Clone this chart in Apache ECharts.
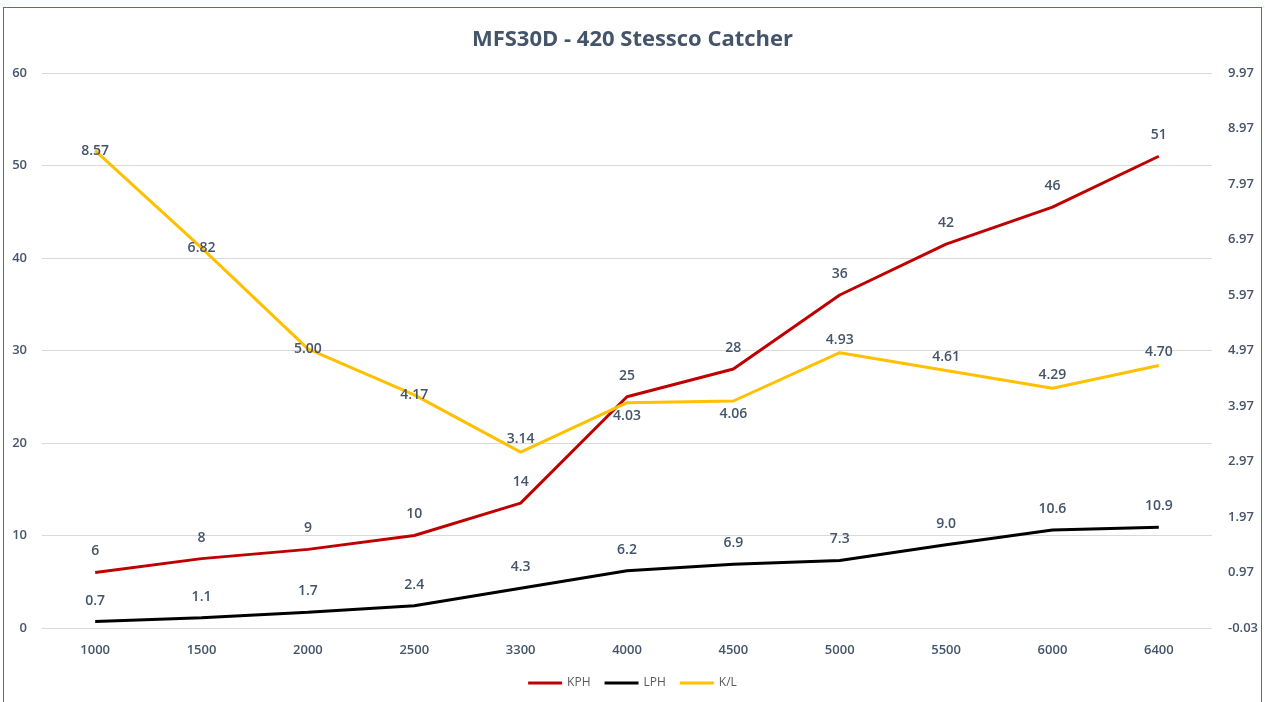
<!DOCTYPE html>
<html>
<head>
<meta charset="utf-8">
<script src="https://cdn.jsdelivr.net/npm/echarts@6/dist/echarts.min.js"></script>
<style>
html,body{margin:0;padding:0;background:#fff;}
#wrap{position:relative;width:1265px;height:702px;overflow:hidden;}
#chart{width:1265px;height:702px;}
#frame{position:absolute;left:3px;top:7px;width:1259px;height:720px;border:1px solid #FF2A2A;box-sizing:border-box;pointer-events:none;}
</style>
</head>
<body>
<div id="wrap"><div id="chart"></div><div id="frame"></div></div>
<script>
const categories = ['1000','1500','2000','2500','3300','4000','4500','5000','5500','6000','6400'];
const kph = [6, 7.5, 8.5, 10, 13.5, 25, 28, 36, 41.5, 45.5, 51];
const lph = [0.7, 1.1, 1.7, 2.4, 4.3, 6.2, 6.9, 7.3, 9.0, 10.6, 10.9];
const kl = [8.57, 6.82, 5.00, 4.17, 3.14, 4.03, 4.06, 4.93, 4.61, 4.29, 4.70];
const klLabelPos = ['inside','inside','inside','inside','top','bottom','bottom','top','top','top','top'];

const textColor = '#44546A';
const font = '"Open Sans", "Liberation Sans", sans-serif';

const chart = echarts.init(document.getElementById('chart'));
chart.setOption({
  backgroundColor: '#fff',
  animation: false,
  textStyle: { fontFamily: font },
  title: {
    text: 'MFS30D - 420 Stessco Catcher',
    left: 'center', top: 24,
    textStyle: { fontSize: 22, fontWeight: 'bold', color: textColor, fontFamily: font }
  },
  legend: {
    bottom: 8, left: 'center',
    itemWidth: 34, itemHeight: 3, itemGap: 14,
    icon: 'rect',
    textStyle: { fontSize: 12, color: '#595959', fontFamily: font },
    data: ['KPH', 'LPH', 'K/L']
  },
  grid: { left: 42, right: 53, top: 73, bottom: 74, containLabel: false },
  xAxis: {
    type: 'category', data: categories,
    axisLine: { show: false }, axisTick: { show: false },
    axisLabel: { color: textColor, fontSize: 13, fontWeight: 600, margin: 16 }
  },
  yAxis: [
    {
      type: 'value', min: 0, max: 60, interval: 10,
      axisLine: { show: false }, axisTick: { show: false },
      splitLine: { lineStyle: { color: '#D9D9D9', width: 1 } },
      axisLabel: { color: textColor, fontSize: 13, fontWeight: 600, margin: 15 }
    },
    {
      type: 'value', min: -0.03, max: 9.97, interval: 1,
      axisLine: { show: false }, axisTick: { show: false },
      splitLine: { show: false },
      axisLabel: { color: textColor, fontSize: 13, fontWeight: 600, margin: 16,
        formatter: v => v.toFixed(2) }
    }
  ],
  series: [
    {
      name: 'KPH', type: 'line', data: kph, yAxisIndex: 0,
      symbol: 'circle', symbolSize: 0, showSymbol: true,
      lineStyle: { color: '#C00000', width: 3 }, itemStyle: { color: '#C00000' },
      label: { show: true, position: 'top', distance: 14, color: textColor, fontSize: 14, fontWeight: 600,
        formatter: p => String(Math.round(p.value)) }
    },
    {
      name: 'LPH', type: 'line', data: lph, yAxisIndex: 0,
      symbol: 'circle', symbolSize: 0, showSymbol: true,
      lineStyle: { color: '#000000', width: 3 }, itemStyle: { color: '#000000' },
      label: { show: true, position: 'top', distance: 14, color: textColor, fontSize: 14, fontWeight: 600,
        formatter: p => p.value.toFixed(1) }
    },
    {
      name: 'K/L', type: 'line', yAxisIndex: 1,
      data: kl.map((v, i) => ({ value: v, label: { position: klLabelPos[i] } })),
      symbol: 'circle', symbolSize: 0, showSymbol: true,
      lineStyle: { color: '#FFC000', width: 3 }, itemStyle: { color: '#FFC000' },
      label: { show: true, distance: 6, color: textColor, fontSize: 14, fontWeight: 600,
        formatter: p => p.value.toFixed(2) }
    }
  ]
});
</script>
</body>
</html>
